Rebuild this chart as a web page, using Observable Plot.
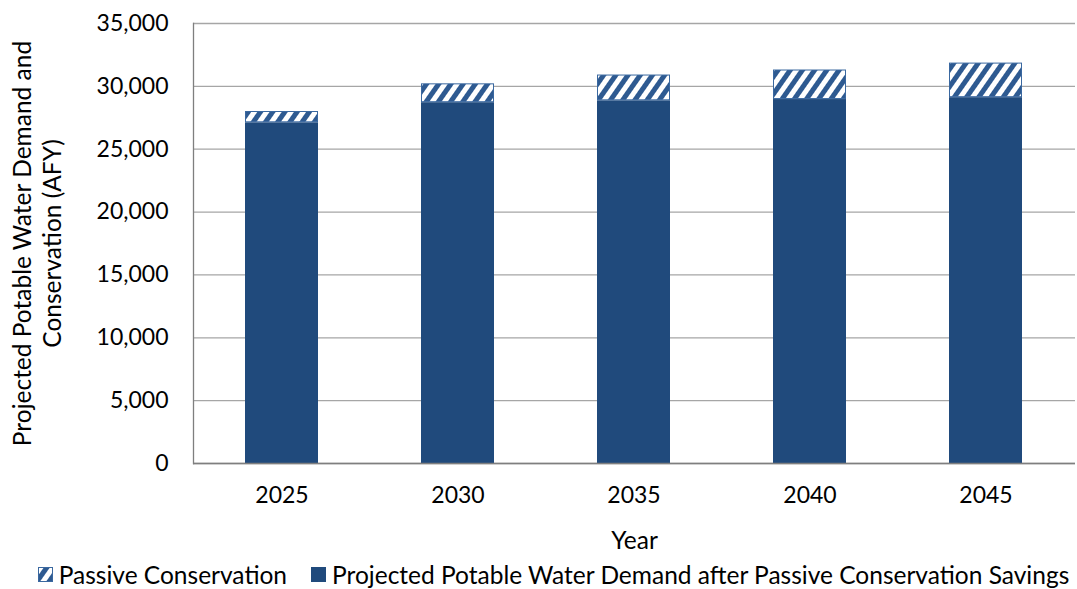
<!DOCTYPE html>
<html>
<head>
<meta charset="utf-8">
<script src="https://cdn.jsdelivr.net/npm/d3@7"></script>
<script src="https://cdn.jsdelivr.net/npm/@observablehq/plot@0.6"></script>
<style>
  html, body { margin: 0; padding: 0; background: #fff; }
  body { width: 1077px; height: 589px; overflow: hidden; font-family: Lato, "Noto Sans", sans-serif; }
  #legend { display: flex; justify-content: center; align-items: center; gap: 24px; font-size: 24.5px; color: #000; height: 29px; margin-left: 30px; white-space: nowrap; }
  #legend .item { display: flex; align-items: center; gap: 6px; }
  #legend svg { display: block; }
</style>
</head>
<body>
<div id="chart"></div>
<div id="legend"></div>
<script>
const years = ["2025", "2030", "2035", "2040", "2045"];
const demandAfter = [27100, 28700, 28850, 28950, 29100];
const passiveConservation = [900, 1500, 2050, 2350, 2750];
const yTicks = [0, 5000, 10000, 15000, 20000, 25000, 30000, 35000];
const seriesNames = ["Passive Conservation", "Projected Potable Water Demand after Passive Conservation Savings"];
const yLabel = "Projected Potable Water Demand and\nConservation (AFY)";
const xLabel = "Year";

const blue = "#204A7C";
const rows = years.map((yr, i) => ({year: yr, demand: demandAfter[i], passive: passiveConservation[i]}));

const plot = Plot.plot({
  width: 1077,
  height: 560,
  marginTop: 23,
  marginBottom: 97,
  marginLeft: 193,
  marginRight: 2,
  style: {fontFamily: "Lato, 'Noto Sans', sans-serif", fontSize: "23px", color: "#000", background: "#fff", overflow: "visible"},
  x: {domain: years, paddingInner: 0.585, paddingOuter: 0.2925, label: null},
  y: {domain: [0, 35000], label: null},
  marks: [
    Plot.gridY(yTicks, {stroke: "#A6A6A6", strokeOpacity: 1, strokeWidth: 1.3}),
    Plot.barY(rows, {x: "year", y1: 0, y2: "demand", fill: blue}),
    Plot.barY(rows, {x: "year", y1: "demand", y2: d => d.demand + d.passive, fill: "url(#hatchMain)", stroke: "#3A68A0", strokeWidth: 1, inset: 0.5}),
    Plot.ruleY([0], {stroke: "#7F7F7F", strokeWidth: 1.3}),
    Plot.frame({anchor: "left", stroke: "#7F7F7F", strokeWidth: 1.3}),
    Plot.axisY({ticks: yTicks, tickFormat: d3.format(","), tickSize: 0, tickPadding: 25, label: null, fontSize: 23}),
    Plot.axisX({tickSize: 0, tickPadding: 23, label: null, fontSize: 23}),
    Plot.text([yLabel], {frameAnchor: "left", textAnchor: "middle", rotate: -90, dx: -157, fontSize: 24.5, lineHeight: 1.2, fill: "#000"}),
    Plot.text([xLabel], {frameAnchor: "bottom", dy: 85, fontSize: 24.5, fill: "#000"})
  ]
});

const svg = d3.select(plot);
const defs = svg.insert("defs", ":first-child");
function addHatch(defsSel, id) {
  const p = defsSel.append("pattern").attr("id", id).attr("patternUnits", "userSpaceOnUse")
    .attr("width", 10).attr("height", 10).attr("patternTransform", "rotate(35)");
  p.append("rect").attr("width", 10).attr("height", 10).attr("fill", "#2E5A91");
  p.append("rect").attr("x", 0).attr("width", 5).attr("height", 10).attr("fill", "#fff");
}
addHatch(defs, "hatchMain");
document.getElementById("chart").appendChild(plot);

const legend = d3.select("#legend");
const it1 = legend.append("div").attr("class", "item");
const s1 = it1.append("svg").attr("width", 15).attr("height", 15);
addHatch(s1.append("defs"), "hatchLegend");
s1.append("rect").attr("x", 0.5).attr("y", 0.5).attr("width", 14).attr("height", 14).attr("fill", "url(#hatchLegend)").attr("stroke", "#3A68A0");
it1.append("span").text(seriesNames[0]);
const it2 = legend.append("div").attr("class", "item");
it2.append("svg").attr("width", 15).attr("height", 15).append("rect").attr("width", 15).attr("height", 15).attr("fill", blue);
it2.append("span").text(seriesNames[1]);
</script>
</body>
</html>
